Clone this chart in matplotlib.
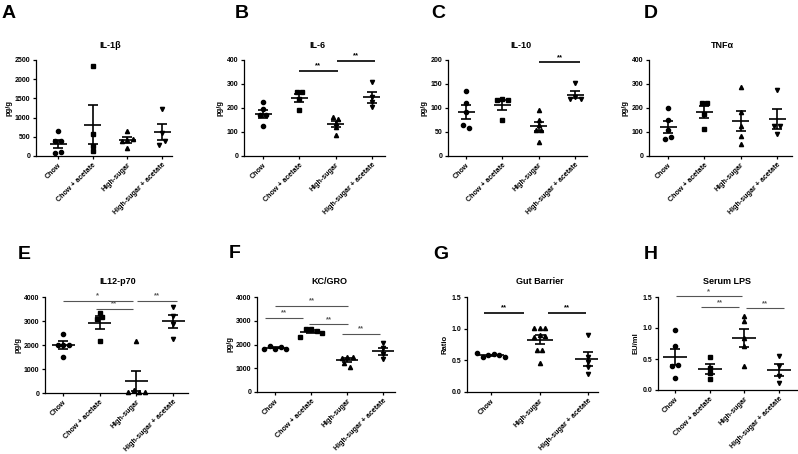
import numpy as np
import matplotlib.pyplot as plt
from matplotlib import transforms

plt.rcParams['font.family'] = ['Liberation Sans', 'DejaVu Sans']

# group names
groups4 = ['Chow', 'Chow + acetate', 'High-sugar', 'High-sugar + acetate']
groups3 = ['Chow', 'High-sugar', 'High-sugar + acetate']
markers4 = ['o', 's', '^', 'v']
markers3 = ['o', '^', 'v']

# individual values per group
il1b = [[657, 381, 381, 69, 104],
        [2340, 560, 250, 120],
        [640, 208, 381, 407, 441],
        [1228, 597, 285, 381]]
il6 = [[224, 196, 169, 169, 125],
       [265, 265, 239, 193],
       [164, 153, 136, 119, 89],
       [308, 244, 224, 204]]
il10 = [[134.5, 110, 92, 65, 58],
        [117, 118.5, 117, 74],
        [96, 75, 64, 54, 54, 30],
        [152, 118, 123, 119]]
tnfa = [[199, 150, 107, 71, 79],
        [220, 220, 176, 113],
        [287, 184, 125, 85, 49],
        [276, 127, 127, 92]]
il12 = [[2454, 2007, 2007, 2007, 1519],
        [3066, 3331, 3164, 2147],
        [2147, 56, 139, 56, 56],
        [3568, 3220, 2886, 2258]]
kcgro = [[1810, 1940, 1830, 1900, 1810],
         [2327, 2648, 2648, 2564, 2467],
         [1449, 1491, 1463, 1213, 1073],
         [2077, 1840, 1589, 1394]]
gut = [[0.61, 0.55, 0.58, 0.60, 0.58, 0.56],
       [1.01, 1.01, 1.01, 0.87, 0.90, 0.88, 0.66, 0.66, 0.46],
       [0.90, 0.55, 0.47, 0.40, 0.28]]
lps = [[0.966, 0.705, 0.39, 0.406, 0.192],
       [0.54, 0.35, 0.27, 0.176],
       [1.19, 1.11, 0.84, 0.71, 0.38],
       [0.55, 0.38, 0.22, 0.12]]

# significance bars: (from group, to group, height, label)
il6_sig = [(0.99, 2.06, 356, '**'), (2.03, 3.09, 396, '**')]
il10_sig = [(2.02, 3.13, 195, '**')]
il12_sig = [(0.0, 1.90, 3833, '*'), (0.9, 1.9, 3499, '**'), (2.02, 3.11, 3847, '**')]
kcgro_sig = [(0.0, 2.03, 3624, '**'), (-0.28, 0.78, 3136, '**'),
             (0.95, 2.03, 2857, '**'), (1.87, 2.91, 2439, '**')]
gut_sig = [(-0.14, 0.69, 1.254, '**'), (1.17, 1.96, 1.254, '**')]
lps_sig = [(0.02, 1.93, 1.51, '*'), (0.74, 1.84, 1.335, '**'), (2.05, 3.14, 1.32, '**')]

W, H = 798, 454
fig = plt.figure(figsize=(W / 100, H / 100), dpi=100)


def dodge(vals, ppu, thresh=3.9, step=5.5):
    # spread points that overlap vertically (offsets in pixels)
    order = np.argsort(-vals, kind='stable')
    offsets = np.zeros(len(vals))
    clusters = []
    cur = [order[0]]
    for k in order[1:]:
        if abs(vals[cur[-1]] - vals[k]) * ppu < thresh:
            cur.append(k)
        else:
            clusters.append(cur)
            cur = [k]
    clusters.append(cur)
    for c in clusters:
        c = sorted(c)
        for j, k in enumerate(c):
            offsets[k] = (j - (len(c) - 1) / 2) * step
    return offsets


def draw_panel(box, cats, title, ylabel, data, groups, markers, ymax, ystep,
               fmt, sig=(), sig_dark=True, mean_hw=8.5):
    left, top, right, bottom = box
    n = len(data)
    sp = (cats[1] - cats[0]) / (n - 1)
    ax = fig.add_axes([left / W, 1 - bottom / H, (right - left) / W, (bottom - top) / H])
    ax.set_xlim((left - cats[0]) / sp, (right - cats[0]) / sp)
    ax.set_ylim(0, ymax)
    ppu = (bottom - top) / ymax

    for i, vals in enumerate(data):
        vals = np.asarray(vals, float)
        off = dodge(vals, ppu) / sp
        ax.plot(i + off, vals, linestyle='none', marker=markers[i], ms=3.0,
                color='black', clip_on=False, zorder=3)
        m = vals.mean()
        s = vals.std(ddof=1) / np.sqrt(len(vals))
        ax.hlines(m, i - mean_hw / sp, i + mean_hw / sp, color='black', lw=1.2, zorder=4)
        ax.vlines(i, m - s, m + s, color='black', lw=1.2, zorder=4)
        ax.hlines([m - s, m + s], i - 5 / sp, i + 5 / sp, color='black', lw=1.2, zorder=4)

    col = 'black' if sig_dark else '#555555'
    lw = 1.2 if sig_dark else 0.8
    for x0, x1, y, lab in sig:
        ax.hlines(y, x0, x1, color=col, lw=lw, clip_on=False)
        ax.annotate(lab, ((x0 + x1) / 2, y), xytext=(0, 1), textcoords='offset points',
                    ha='center', va='bottom', fontsize=5.5, fontweight='bold', color=col,
                    annotation_clip=False)

    trans = transforms.blended_transform_factory(ax.transData, ax.transAxes)
    ax.text((n - 1) / 2, 1 + 15 / (bottom - top), title, transform=trans,
            ha='center', va='center', fontsize=6.5, fontweight='bold')

    yt = np.arange(0, ymax + ystep / 2, ystep)
    ax.set_yticks(yt)
    ax.set_yticklabels([fmt.format(v) for v in yt], fontsize=5, fontweight='bold')
    ax.set_xticks(range(n))
    ax.set_xticklabels(groups, rotation=45, ha='right', rotation_mode='anchor',
                       fontsize=5.1, fontweight='bold')
    ax.set_ylabel(ylabel, fontsize=5.5, fontweight='bold', labelpad=2)
    for side in ['top', 'right']:
        ax.spines[side].set_visible(False)
    for side in ['left', 'bottom']:
        ax.spines[side].set_linewidth(0.9)
    ax.tick_params(direction='out', length=2.5, width=0.9, pad=1.5)
    return ax


draw_panel((36, 60, 172, 156), (58, 162), 'IL-1β', 'pg/g', il1b, groups4, markers4,
           2500, 500, '{:.0f}')
draw_panel((244, 60, 385, 156), (263, 372), 'IL-6', 'pg/g', il6, groups4, markers4,
           400, 100, '{:.0f}', il6_sig)
draw_panel((448, 60, 587, 156), (466, 575), 'IL-10', 'pg/g', il10, groups4, markers4,
           200, 50, '{:.0f}', il10_sig)
draw_panel((649, 60, 792, 156), (668, 777), 'TNFα', 'pg/g', tnfa, groups4, markers4,
           400, 100, '{:.0f}')
draw_panel((45, 297, 188, 393), (63, 173), 'IL12-p70', 'pg/g', il12, groups4, markers4,
           4000, 1000, '{:.0f}', il12_sig, sig_dark=False, mean_hw=11.5)
draw_panel((257, 297, 395, 392), (275, 383), 'KC/GRO', 'pg/g', kcgro, groups4, markers4,
           4000, 1000, '{:.0f}', kcgro_sig, sig_dark=False, mean_hw=11)
draw_panel((467, 297, 598, 392), (491, 588), 'Gut Barrier', 'Ratio', gut, groups3, markers3,
           1.5, 0.5, '{:.1f}', gut_sig, mean_hw=13)
draw_panel((658, 297, 797, 390), (675, 779), 'Serum LPS', 'EU/ml', lps, groups4, markers4,
           1.5, 0.5, '{:.1f}', lps_sig, sig_dark=False, mean_hw=12)

# panel letters
letters = ['A', 'B', 'C', 'D', 'E', 'F', 'G', 'H']
letter_x = [2, 235, 431, 644, 18, 229, 433, 644]
letter_y = [18, 18, 18, 18, 259, 258, 259, 259]
for lab, x, y in zip(letters, letter_x, letter_y):
    fig.text(x / W, 1 - y / H, lab, fontsize=14, fontweight='bold', ha='left', va='baseline')

fig.savefig('out.png', dpi=100)
